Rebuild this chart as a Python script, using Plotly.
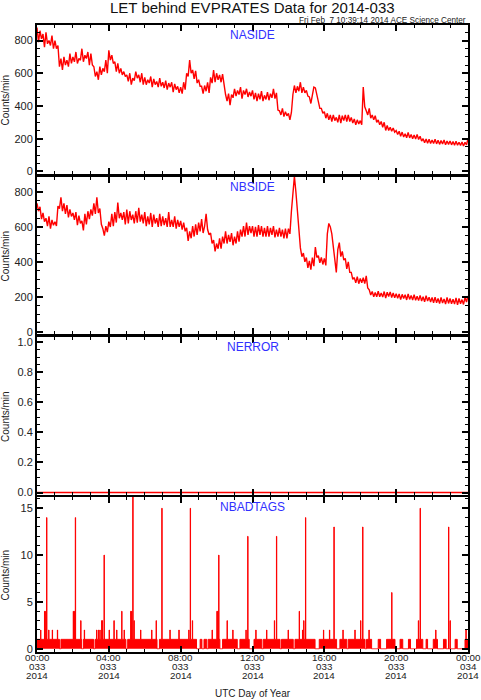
"""
LET behind EVPRATES rates for 2014-033: four stacked panels (NASIDE, NBSIDE, NERROR, NBADTAGS).
"""

import numpy as np
import pandas as pd
import plotly.graph_objects as go

# ---------------------------------------------------------------------------
# Data -- 5 minute samples, one row per hour
# ---------------------------------------------------------------------------
DAY_START = "2014-02-02 00:00"  # day of year 033

naside = [
    880, 790, 860, 810, 840, 760, 850, 780, 800, 770, 830, 750,
    800, 750, 770, 640, 690, 620, 700, 650, 680, 640, 720, 660,
    700, 670, 730, 660, 690, 680, 750, 670, 710, 690, 730, 650,
    720, 650, 640, 580, 610, 560, 640, 590, 630, 610, 680, 600,
    740, 680, 710, 660, 670, 610, 660, 600, 630, 590, 610, 580,
    590, 550, 600, 530, 570, 555, 610, 570, 590, 545, 600, 530,
    575, 530, 560, 540, 580, 515, 565, 530, 550, 515, 570, 520,
    545, 510, 555, 500, 540, 515, 545, 485, 535, 500, 520, 480,
    515, 475, 545, 500, 600, 580, 680, 600, 620, 565, 615, 540,
    560, 520, 520, 475, 525, 490, 545, 480, 575, 540, 620, 545,
    600, 560, 590, 545, 595, 525, 470, 430, 475, 405, 470, 450,
    505, 460, 495, 470, 515, 445, 495, 470, 505, 455, 485, 460,
    495, 440, 480, 430, 475, 440, 490, 430, 465, 440, 485, 435,
    475, 450, 505, 445, 480, 375, 370, 345, 385, 335, 365, 340,
    355, 315, 360, 470, 525, 480, 520, 490, 545, 480, 515, 480,
    495, 460, 455, 415, 470, 515, 510, 470, 415, 385, 385, 355,
    365, 325, 355, 315, 345, 305, 345, 310, 330, 300, 345, 295,
    340, 310, 345, 305, 345, 305, 330, 295, 320, 285, 315, 290,
    310, 285, 515, 395, 370, 345, 385, 325, 345, 315, 340, 300,
    315, 285, 305, 270, 300, 250, 280, 250, 270, 245, 265, 240,
    250, 225, 245, 215, 240, 210, 230, 205, 238, 205, 225, 200,
    222, 198, 226, 195, 215, 185, 200, 175, 198, 172, 196, 170,
    192, 170, 196, 168, 190, 165, 188, 168, 192, 162, 186, 165,
    186, 162, 182, 160, 184, 160, 178, 158, 180, 155, 178, 162,
    200,
]

nbside = [
    735, 690, 715, 645, 680, 630, 650, 605, 660, 590, 640, 610,
    630, 605, 720, 705, 770, 690, 735, 675, 725, 655, 700, 660,
    680, 640, 685, 610, 665, 620, 635, 580, 675, 615, 690, 645,
    700, 665, 735, 675, 770, 680, 705, 615, 590, 550, 605, 570,
    630, 600, 675, 605, 685, 625, 740, 650, 680, 640, 685, 615,
    700, 620, 690, 640, 670, 620, 690, 625, 710, 630, 670, 620,
    685, 605, 660, 615, 680, 600, 670, 620, 650, 600, 675, 605,
    660, 610, 650, 600, 685, 600, 640, 600, 660, 590, 640, 600,
    635, 585, 625, 575, 595, 520, 575, 535, 605, 545, 615, 555,
    625, 575, 645, 565, 605, 675, 585, 555, 565, 505, 525, 460,
    505, 475, 535, 475, 545, 505, 575, 505, 555, 515, 565, 495,
    545, 505, 575, 515, 585, 545, 605, 545, 625, 555, 605, 565,
    605, 545, 600, 545, 610, 555, 605, 545, 595, 545, 605, 545,
    595, 555, 605, 540, 585, 545, 595, 545, 585, 535, 590, 535,
    590, 560, 690, 790, 890, 800, 690, 550, 480, 430, 450, 400,
    425, 365, 405, 355, 425, 375, 485, 425, 435, 395, 425, 385,
    420, 380, 560, 620, 600, 560, 490, 440, 340, 470, 510, 430,
    460, 410, 420, 360, 400, 340, 340, 300, 310, 280, 315, 275,
    305, 280, 310, 275, 320, 250, 240, 210, 230, 200, 225, 200,
    232, 200, 222, 198, 230, 192, 226, 202, 228, 196, 222, 195,
    218, 192, 216, 184, 214, 190, 212, 182, 216, 185, 208, 182,
    212, 180, 203, 178, 208, 176, 200, 171, 206, 176, 198, 170,
    196, 166, 198, 166, 190, 161, 196, 164, 188, 158, 196, 162,
    190, 160, 186, 158, 194, 154, 190, 160, 184, 156, 196, 170,
    205,
]

# NERROR: flat zero all day (hourly)
nerror = [0, 0, 0, 0, 0, 0, 0, 0, 0, 0, 0, 0, 0,
          0, 0, 0, 0, 0, 0, 0, 0, 0, 0, 0, 0]

# NBADTAGS: baseline of 1 count/min except in these gaps (minutes of day)
badtag_gap_start = [75, 149, 189, 297, 401, 533, 551, 567, 611, 669, 709, 751, 812, 856,
                    929, 1001, 1035, 1096, 1118, 1148, 1196, 1222, 1248, 1289, 1305,
                    1338, 1367, 1404]
badtag_gap_end = [80, 155, 194, 303, 409, 545, 558, 572, 620, 678, 725, 756, 817, 862,
                  943, 1012, 1040, 1101, 1140, 1168, 1213, 1241, 1268, 1300, 1324,
                  1358, 1397, 1430]

# NBADTAGS: minutes with more than one count
badtag_spike_min = [12, 25, 29, 32, 39, 51, 68, 121, 125, 128, 146, 158, 199, 205, 210,
                    216, 218, 224, 241, 257, 266, 283, 291, 313, 316, 320, 324, 346,
                    383, 398, 417, 444, 474, 507, 512, 519, 585, 601, 604, 607, 635,
                    654, 698, 704, 731, 767, 793, 800, 839, 876, 887, 891, 897, 957,
                    977, 992, 1022, 1062, 1081, 1088, 1109, 1185, 1274, 1280, 1332,
                    1375, 1380, 1433]
badtag_spike_count = [2, 4, 4, 14, 2, 2, 2, 4, 4, 14, 3, 2, 2, 2, 2,
                      3, 3, 10, 2, 3, 2, 4, 2, 4, 4, 17, 3, 2,
                      2, 3, 15, 2, 2, 2, 15, 3, 2, 4, 4, 10, 3,
                      2, 2, 12, 2, 2, 3, 12, 2, 4, 2, 3, 14, 2,
                      2, 13, 2, 2, 3, 13, 2, 6, 3, 15, 2,
                      13, 3, 2]

# x tick marks, hours after DAY_START
tick_hours = [0, 4, 8, 12, 16, 20, 24]

# ---------------------------------------------------------------------------
# Build series
# ---------------------------------------------------------------------------
t0 = pd.Timestamp(DAY_START)
t5 = pd.date_range(DAY_START, periods=len(naside), freq="5min")
t_hour = pd.date_range(DAY_START, periods=len(nerror), freq="60min")
t1 = pd.date_range(DAY_START, periods=1441, freq="1min")

badtags = np.ones(1441)
for a, b in zip(badtag_gap_start, badtag_gap_end):
    badtags[a:b] = 0
for m, c in zip(badtag_spike_min, badtag_spike_count):
    badtags[m] = c
badtags[1440] = 0

RED = "#ff0000"
BLUE = "#3030ff"
INK = "#222222"
FONT = "Liberation Sans"

fig = go.Figure()
fig.add_trace(go.Scatter(x=t5, y=naside, mode="lines", line=dict(color=RED, width=1.4),
                         xaxis="x", yaxis="y", showlegend=False))
fig.add_trace(go.Scatter(x=t5, y=nbside, mode="lines", line=dict(color=RED, width=1.4),
                         xaxis="x2", yaxis="y2", showlegend=False))
fig.add_trace(go.Scatter(x=t_hour, y=nerror, mode="lines", line=dict(color=RED, width=1.5),
                         xaxis="x3", yaxis="y3", showlegend=False))
fig.add_trace(go.Scatter(x=t1, y=badtags, mode="lines", line=dict(color=RED, width=1, shape="hv"),
                         fill="tozeroy", fillcolor=RED,
                         xaxis="x4", yaxis="y4", showlegend=False))

# ---------------------------------------------------------------------------
# Axes
# ---------------------------------------------------------------------------
x_range = [t0, t0 + pd.Timedelta(hours=24)]
H = 3600 * 1000


def x_axis(anchor):
    return dict(
        type="date", range=x_range, anchor=anchor, domain=[0, 1],
        showline=True, linewidth=2, linecolor="black", mirror="ticks",
        ticks="inside", ticklen=6, tickwidth=1.5, tickcolor="black",
        tick0=x_range[0], dtick=4 * H,
        minor=dict(dtick=H, ticks="inside", ticklen=3, tickcolor="black", tickwidth=1.2),
        showgrid=False, zeroline=False, showticklabels=False,
        automargin=False,
    )


def y_axis(anchor, domain, rng, dtick, minor, fmt=None):
    d = dict(
        anchor=anchor, domain=domain, range=rng,
        showline=True, linewidth=2, linecolor="black", mirror="ticks",
        ticks="inside", ticklen=6, tickwidth=1.5, tickcolor="black",
        tick0=0, dtick=dtick,
        minor=dict(dtick=minor, ticks="inside", ticklen=3, tickcolor="black", tickwidth=1.2),
        showgrid=False, zeroline=False,
        tickfont=dict(family=FONT, size=11, color=INK),
        automargin=False,
    )
    if fmt:
        d["tickformat"] = fmt
    return d


dom = [[0.7624, 1.0], [0.5072, 0.7576], [0.2504, 0.5024], [0.0, 0.2472]]

fig.update_layout(
    width=481, height=700,
    margin=dict(l=37, r=13, t=25, b=48),
    paper_bgcolor="white", plot_bgcolor="white",
    xaxis=x_axis("y"),
    xaxis2=x_axis("y2"),
    xaxis3=x_axis("y3"),
    xaxis4=x_axis("y4"),
    yaxis=y_axis("x", dom[0], [-16, 895], 200, 50),
    yaxis2=y_axis("x2", dom[1], [-13, 886], 200, 50),
    yaxis3=y_axis("x3", dom[2], [-0.016, 1.033], 0.2, 0.05, ".1f"),
    yaxis4=y_axis("x4", dom[3], [-0.35, 16.2], 5, 1),
)

# ---------------------------------------------------------------------------
# Text
# ---------------------------------------------------------------------------
fig.add_annotation(text="LET behind EVPRATES Data for 2014-033", xref="paper", yref="paper",
                   x=0.5, y=1.0, yshift=18, xanchor="center", yanchor="middle", showarrow=False,
                   font=dict(family=FONT, size=15, color="#111"))
fig.add_annotation(text="Fri Feb \u00a07 10:39:14 2014 ACE Science Center", xref="paper",
                   yref="paper", x=1.0, y=1.0, yshift=5, xanchor="right", yanchor="middle",
                   showarrow=False, font=dict(family=FONT, size=8.2, color=INK))

panel_names = ["NASIDE", "NBSIDE", "NERROR", "NBADTAGS"]
for name, (lo, hi) in zip(panel_names, dom):
    fig.add_annotation(text=name, xref="paper", yref="paper", x=0.5, y=hi, yshift=-10,
                       xanchor="center", yanchor="middle", showarrow=False,
                       font=dict(family=FONT, size=12, color=BLUE))
    fig.add_annotation(text="Counts/min", xref="paper", yref="paper", x=-0.072,
                       y=(lo + hi) / 2, xanchor="center", yanchor="middle", textangle=-90,
                       showarrow=False, font=dict(family=FONT, size=10, color=INK))

# three-line time labels under the bottom panel (IDL style, tight spacing)
for h in tick_hours:
    t = t0 + pd.Timedelta(hours=h)
    lines = [t.strftime("%H:%M"), t.strftime("%j"), t.strftime("%Y")]
    for k, txt in enumerate(lines):
        fig.add_annotation(text=txt, xref="x4", yref="paper", x=t, y=0,
                           yshift=-5 - 9 * k, xanchor="center", yanchor="middle",
                           showarrow=False, borderpad=0,
                           font=dict(family=FONT, size=9.8, color=INK))

fig.add_annotation(text="UTC Day of Year", xref="paper", yref="paper", x=0.5, y=0,
                   yshift=-41, xanchor="center", yanchor="middle", showarrow=False,
                   font=dict(family=FONT, size=10, color=INK))

# drop the browser's default 8px body margin so the figure fills the window
fig.write_html("out.html", config={"displayModeBar": False},
               post_script="document.body.style.margin = '0px';")
